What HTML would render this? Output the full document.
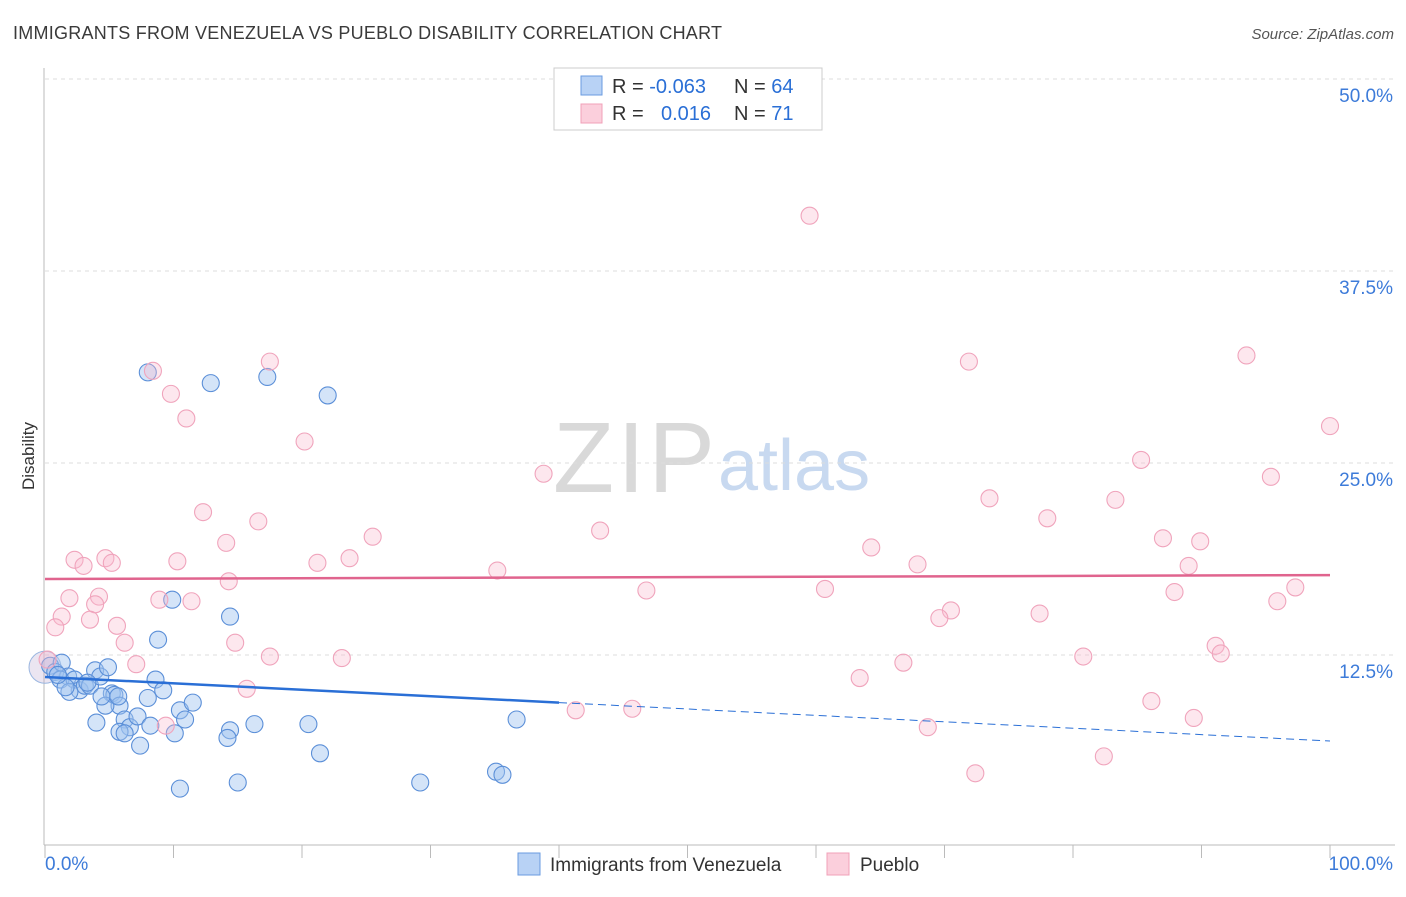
<!DOCTYPE html>
<html><head><meta charset="utf-8"><style>
body{margin:0;background:#fff;font-family:"Liberation Sans",sans-serif}
svg text{font-family:"Liberation Sans",sans-serif}
</style></head><body>
<svg id="chart" width="1406" height="892" viewBox="0 0 1406 892" xmlns="http://www.w3.org/2000/svg">
<text x="13" y="39" font-size="18" fill="#3a3a3a" textLength="709">IMMIGRANTS FROM VENEZUELA VS PUEBLO DISABILITY CORRELATION CHART</text>
<text x="1394" y="39" font-size="15" fill="#555" text-anchor="end" font-style="italic">Source: ZipAtlas.com</text>
<g>
<text x="553" y="492" font-size="100" fill="#d9d9d9" font-family="Liberation Serif, serif" textLength="162">ZIP</text>
<text x="718" y="490" font-size="72" fill="#c8d9f0">atlas</text>
</g>
<g id="grid"></g>
<g id="axes"></g>
<g id="blue-pts"></g>
<g id="pink-pts"></g>
<g id="trends"></g>
<text x="34" y="456" font-size="17" fill="#333" text-anchor="middle" transform="rotate(-90 34 456)">Disability</text>
<g>
<rect x="554" y="68" width="268" height="62" fill="#fff" stroke="#ccc"/>
<rect x="581" y="76" width="21" height="19" fill="#b8d2f5" stroke="#6a9be0"/>
<rect x="581" y="104" width="21" height="19" fill="#fbcfdc" stroke="#f0a0b8"/>
<text x="612" y="93" font-size="20" fill="#333">R = <tspan fill="#2a6fd6">-0.063</tspan></text>
<text x="734" y="93" font-size="20" fill="#333">N = <tspan fill="#2a6fd6">64</tspan></text>
<text x="612" y="120" font-size="20" fill="#333">R = </text>
<text x="661" y="120" font-size="20" fill="#2a6fd6">0.016</text>
<text x="734" y="120" font-size="20" fill="#333">N = <tspan fill="#2a6fd6">71</tspan></text>
</g>
<g>
<rect x="518" y="853" width="22" height="22" fill="#b8d2f5" stroke="#6a9be0"/>
<text x="550" y="871" font-size="19" fill="#333">Immigrants from Venezuela</text>
<rect x="827" y="853" width="22" height="22" fill="#fbcfdc" stroke="#f0a0b8"/>
<text x="860" y="871" font-size="19" fill="#333">Pueblo</text>
</g>
</svg>
<script>
const yTicks=[12.5,25,37.5,50];
const yTickLabels=["12.5%","25.0%","37.5%","50.0%"];
const xTicks=[0,10,20,30,40,50,60,70,80,90,100];
const blueX=[8.0,12.9,17.3,22.0,9.9,14.4,8.8,0.4,0.8,1.3,1.8,1.2,2.3,2.7,3.1,3.5,3.9,4.3,4.9,5.2,5.4,1.9,1.6,5.8,4.7,4.0,6.2,6.6,5.8,7.2,7.4,8.0,8.6,9.2,10.1,10.5,10.9,11.5,8.2,6.2,14.4,14.2,16.3,15.0,10.5,20.5,21.4,29.2,35.1,35.6,36.7,3.3,1.0,4.4,5.7];
const blueY=[30.9,30.2,30.6,29.4,16.1,15.0,13.5,11.8,11.4,12.0,11.1,10.9,10.9,10.2,10.5,10.5,11.5,11.1,11.7,10.0,9.9,10.1,10.4,9.2,9.2,8.1,8.3,7.8,7.5,8.5,6.6,9.7,10.9,10.2,7.4,8.9,8.3,9.4,7.9,7.4,7.6,7.1,8.0,4.2,3.8,8.0,6.1,4.2,4.9,4.7,8.3,10.7,11.2,9.8,9.8];
const pinkX=[59.5,8.4,17.5,9.8,11.0,20.2,12.3,16.6,14.1,25.5,38.8,43.2,2.3,3.0,4.7,5.2,10.3,21.2,23.7,35.2,14.3,1.9,4.2,3.9,1.3,3.5,5.6,0.8,8.9,11.4,6.2,14.8,7.1,17.5,23.1,15.7,9.4,41.3,45.7,46.8,60.7,64.3,67.9,70.5,69.6,71.9,73.5,78.0,77.4,66.8,63.4,68.7,72.4,80.8,85.3,83.3,87.0,89.9,89.0,87.9,91.1,91.5,93.5,95.4,100,95.9,97.3,86.1,89.4,82.4,0.2];
const pinkY=[41.1,31.0,31.6,29.5,27.9,26.4,21.8,21.2,19.8,20.2,24.3,20.6,18.7,18.3,18.8,18.5,18.6,18.5,18.8,18.0,17.3,16.2,16.3,15.8,15.0,14.8,14.4,14.3,16.1,16.0,13.3,13.3,11.9,12.4,12.3,10.3,7.9,8.9,9.0,16.7,16.8,19.5,18.4,15.4,14.9,31.6,22.7,21.4,15.2,12.0,11.0,7.8,4.8,12.4,25.2,22.6,20.1,19.9,18.3,16.6,13.1,12.6,32.0,24.1,27.4,16.0,16.9,9.5,8.4,5.9,12.2];
const blueTrend=[11.07,6.9];
const blueSolidEnd=40;
const pinkTrend=[17.45,17.7];
const X=v=>45+v*12.85, Y=v=>847-v*15.36;
const NS="http://www.w3.org/2000/svg";
function mk(t,a,p){const e=document.createElementNS(NS,t);for(const k in a)e.setAttribute(k,a[k]);p.appendChild(e);return e;}
const grid=document.getElementById('grid'),axes=document.getElementById('axes');
yTicks.forEach((t,i)=>{
 const l=mk('line',{x1:45,x2:1395,y1:Y(t),y2:Y(t),stroke:'#ddd','stroke-dasharray':'4,4'},grid);
 
 
 const tx=mk('text',{x:1393,y:Y(t)+23,'font-size':19,fill:'#3d7bd9','text-anchor':'end'},axes);
 tx.textContent=yTickLabels[i];
 
 
});
mk('line',{x1:44,x2:44,y1:68,y2:845,stroke:'#bbb'},axes);
mk('line',{x1:44,x2:1395,y1:845,y2:845,stroke:'#bbb'},axes);
xTicks.forEach(t=>{const l=mk('line',{x1:X(t),x2:X(t),y1:845,y2:858,stroke:'#bbb'},axes);
 
 });
const x0=mk('text',{x:45,y:870,'font-size':19,fill:'#3d7bd9'},axes);x0.textContent='0.0%';


const x1=mk('text',{x:1393,y:870,'font-size':19,fill:'#3d7bd9','text-anchor':'end'},axes);x1.textContent='100.0%';


const bp=document.getElementById('blue-pts');
const big=mk('circle',{cx:X(0),cy:Y(11.7),r:16,fill:'rgba(190,170,210,0.3)',stroke:'#9ab6e0'},bp);


blueX.forEach((v,i)=>{const c=mk('circle',{cx:X(v),cy:Y(blueY[i]),r:8.5,fill:'rgba(160,196,240,0.45)',stroke:'#5b8fd8','stroke-width':1.1},bp);
 
 });
const pp=document.getElementById('pink-pts');
pinkX.forEach((v,i)=>{const c=mk('circle',{cx:X(v),cy:Y(pinkY[i]),r:8.5,fill:'rgba(248,185,205,0.35)',stroke:'#f0a4bc','stroke-width':1.1},pp);
 
 });
const tr=document.getElementById('trends');
const bAt=v=>blueTrend[0]+(blueTrend[1]-blueTrend[0])*v/100;
const l1=mk('line',{x1:X(0),y1:Y(bAt(0)),x2:X(blueSolidEnd),y2:Y(bAt(blueSolidEnd)),stroke:'#2a6fd6','stroke-width':2.5},tr);


const l2=mk('line',{x1:X(blueSolidEnd),y1:Y(bAt(blueSolidEnd)),x2:X(100),y2:Y(bAt(100)),stroke:'#2a6fd6','stroke-width':1,'stroke-dasharray':'8,5'},tr);


const l3=mk('line',{x1:X(0),y1:Y(pinkTrend[0]),x2:X(100),y2:Y(pinkTrend[1]),stroke:'#e0648e','stroke-width':2.5},tr);


</script>
</body></html>
